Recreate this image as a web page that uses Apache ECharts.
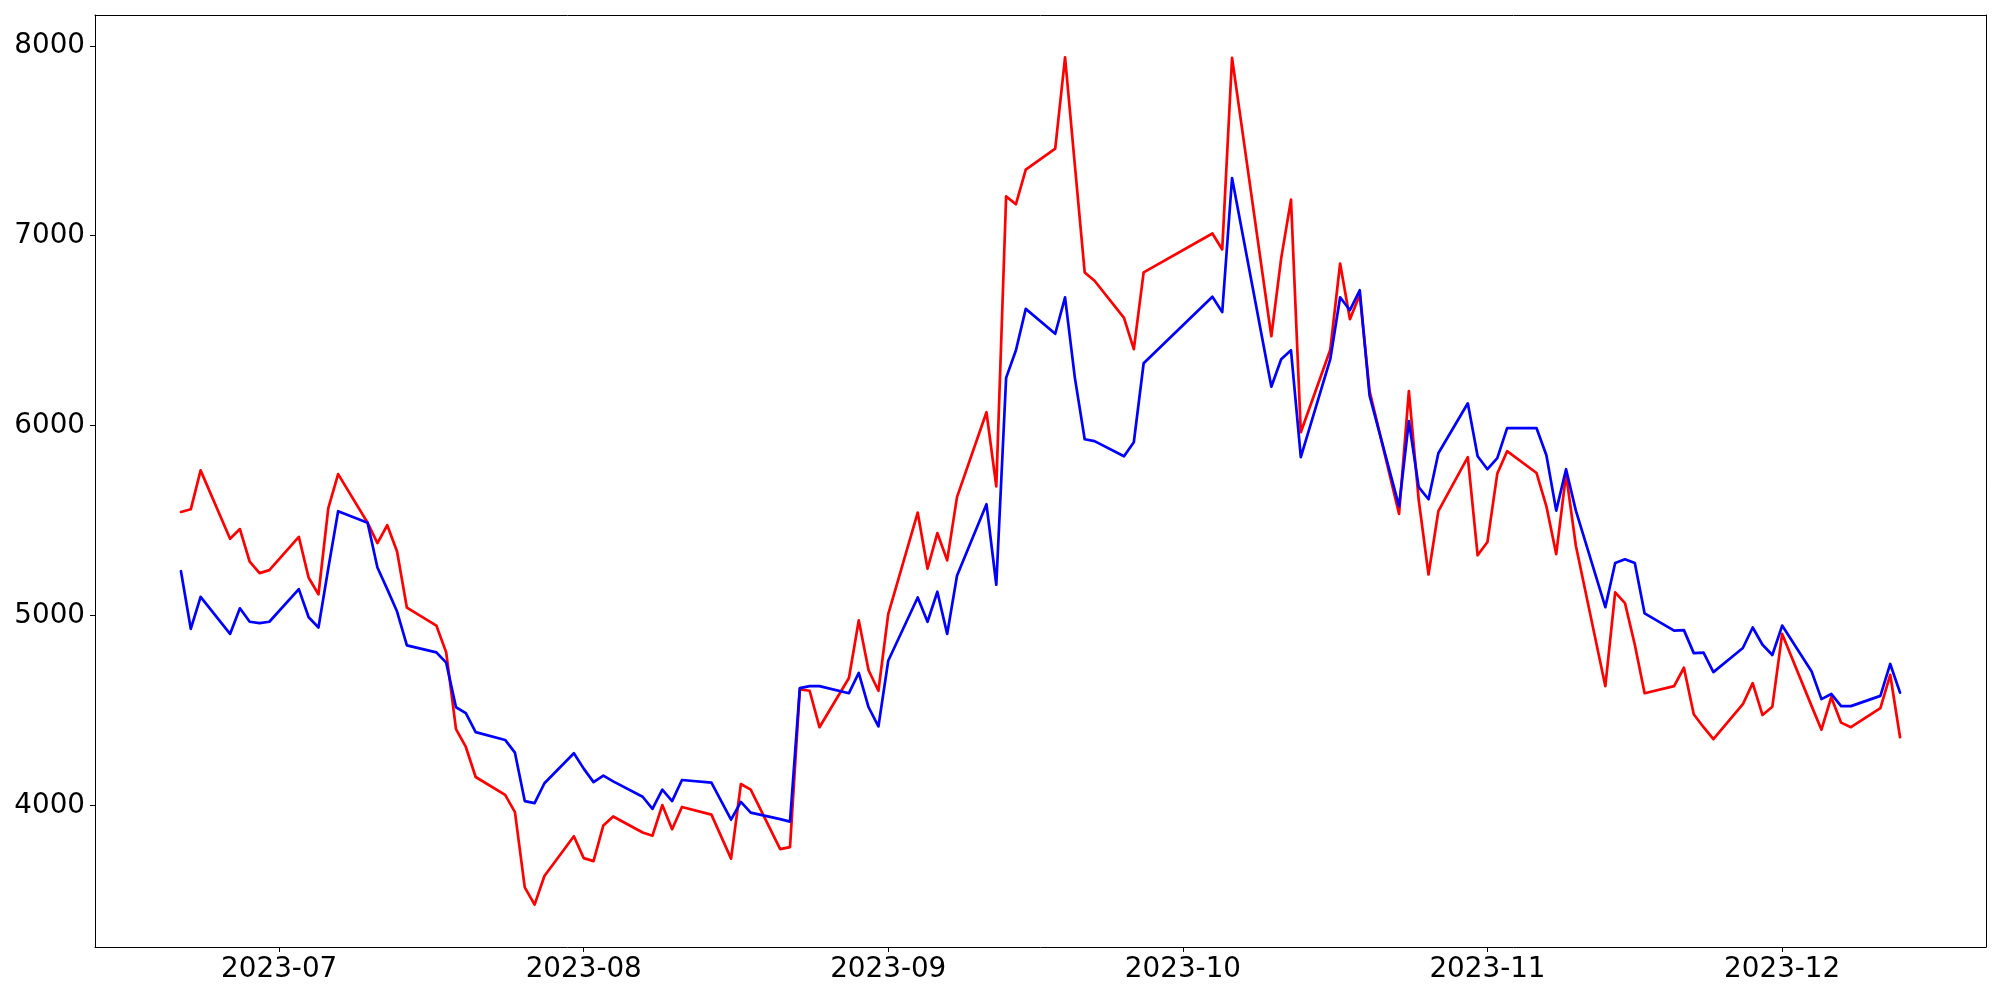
<!DOCTYPE html>
<html>
<head>
<meta charset="utf-8">
<script src="https://cdn.jsdelivr.net/npm/echarts@6/dist/echarts.min.js"></script>
<style>
html,body{margin:0;padding:0;background:#fff;}
#chart{width:2000px;height:1000px;}
</style>
</head>
<body>
<div id="chart"></div>
<script>
// Trading dates
const dates = [
 '2023-06-21','2023-06-22','2023-06-23','2023-06-26','2023-06-27','2023-06-28','2023-06-29','2023-06-30',
 '2023-07-03','2023-07-04','2023-07-05','2023-07-06','2023-07-07','2023-07-10','2023-07-11','2023-07-12','2023-07-13','2023-07-14',
 '2023-07-17','2023-07-18','2023-07-19','2023-07-20','2023-07-21','2023-07-24','2023-07-25','2023-07-26','2023-07-27','2023-07-28','2023-07-31',
 '2023-08-01','2023-08-02','2023-08-03','2023-08-04','2023-08-07','2023-08-08','2023-08-09','2023-08-10','2023-08-11','2023-08-14',
 '2023-08-16','2023-08-17','2023-08-18','2023-08-21','2023-08-22','2023-08-23','2023-08-24','2023-08-25','2023-08-28','2023-08-29','2023-08-30','2023-08-31',
 '2023-09-01','2023-09-04','2023-09-05','2023-09-06','2023-09-07','2023-09-08','2023-09-11','2023-09-12','2023-09-13','2023-09-14','2023-09-15',
 '2023-09-18','2023-09-19','2023-09-20','2023-09-21','2023-09-22','2023-09-25','2023-09-26','2023-09-27',
 '2023-10-04','2023-10-05','2023-10-06','2023-10-10','2023-10-11','2023-10-12','2023-10-13','2023-10-16','2023-10-17','2023-10-18','2023-10-19','2023-10-20',
 '2023-10-23','2023-10-24','2023-10-25','2023-10-26','2023-10-27','2023-10-30','2023-10-31',
 '2023-11-01','2023-11-02','2023-11-03','2023-11-06','2023-11-07','2023-11-08','2023-11-09','2023-11-10','2023-11-13','2023-11-14','2023-11-15','2023-11-16','2023-11-17',
 '2023-11-20','2023-11-21','2023-11-22','2023-11-23','2023-11-24','2023-11-27','2023-11-28','2023-11-29','2023-11-30',
 '2023-12-01','2023-12-04','2023-12-05','2023-12-06','2023-12-07','2023-12-08','2023-12-11','2023-12-12','2023-12-13'
];

const redValues = [
 5546,5560,5765,5405,5456,5284,5224,5240,
 5415,5200,5113,5566,5745,5489,5382,5476,5338,5042,
 4948,4807,4403,4309,4151,4057,3966,3570,3479,3630,3839,
 3724,3708,3896,3943,3859,3842,4003,3876,3993,3953,
 3721,4114,4084,3771,3782,4612,4605,4413,4672,4975,4713,4605,
 5008,5543,5247,5435,5291,5624,6071,5681,7207,7166,7348,
 7459,7939,7370,6807,6763,6568,6403,6807,
 7012,6928,7936,6471,6881,7190,5966,6400,6854,6561,6689,6182,
 5536,6182,5610,5217,5550,5835,5318,
 5388,5748,5866,5751,5576,5324,5745,5368,4629,5123,5066,4847,4592,
 4629,4726,4481,4413,4350,4534,4645,4477,4521,
 4904,4524,4400,4571,4437,4413,4514,4689,4360
];

const blueValues = [
 5234,4931,5099,4904,5039,4968,4961,4968,
 5140,4992,4938,5250,5550,5489,5254,5140,5022,4844,
 4807,4753,4518,4487,4387,4346,4279,4024,4013,4118,4276,
 4195,4124,4158,4128,4047,3983,4084,4024,4135,4121,
 3926,4020,3963,3929,3916,4619,4629,4629,4592,4699,4518,4417,
 4763,5096,4968,5126,4904,5210,5587,5163,6252,6397,6615,
 6484,6676,6252,5929,5919,5839,5913,6329,
 6679,6598,7304,6205,6350,6397,5835,6350,6676,6608,6713,6158,
 5576,6024,5677,5613,5855,6118,5839,
 5771,5829,5987,5987,5845,5553,5771,5553,5045,5277,5297,5277,5012,
 4921,4924,4803,4806,4703,4830,4938,4847,4793,
 4948,4706,4561,4588,4524,4524,4578,4746,4595
];

const xTickLabels = ['2023-07','2023-08','2023-09','2023-10','2023-11','2023-12'];
const yTickValues = [4000,5000,6000,7000,8000];

function ts(s){ const p = s.split('-').map(Number); return Date.UTC(p[0], p[1]-1, p[2] || 1); }
const xs = dates.map(ts);
const xSpan = xs[xs.length-1] - xs[0];
const xMin = xs[0] - 0.05 * xSpan;
const xMax = xs[xs.length-1] + 0.05 * xSpan;
const allVals = redValues.concat(blueValues);
const vMin = Math.min.apply(null, allVals), vMax = Math.max.apply(null, allVals);
const ySpan = vMax - vMin;
const yMin = vMin - 0.05 * ySpan;
const yMax = vMax + 0.05 * ySpan;
const xTickValues = xTickLabels.map(ts);

function fmtMonth(v){ const d = new Date(v); const m = d.getUTCMonth()+1; return d.getUTCFullYear() + '-' + (m < 10 ? '0' + m : m); }

const font = 'DejaVu Sans';
const frameLine = {show: true, onZero: false, lineStyle: {color: '#000', width: 1}};
const tickStyle = {color: '#000', width: 1};
const chart = echarts.init(document.getElementById('chart'), null, {renderer: 'canvas'});
chart.setOption({
  animation: false,
  backgroundColor: '#ffffff',
  grid: {left: 95, right: 14, top: 15, bottom: 53, show: false},
  xAxis: [{
    type: 'value', min: xMin, max: xMax, scale: true, position: 'bottom',
    splitLine: {show: false},
    axisLine: frameLine,
    axisTick: {show: true, inside: false, length: 5, lineStyle: tickStyle, customValues: xTickValues},
    axisLabel: {show: true, margin: 9, color: '#000', fontFamily: font, fontSize: 27.8, customValues: xTickValues, formatter: fmtMonth}
  }, {
    type: 'value', min: xMin, max: xMax, scale: true, position: 'top',
    splitLine: {show: false}, axisLine: frameLine, axisTick: {show: false}, axisLabel: {show: false}
  }],
  yAxis: [{
    type: 'value', min: yMin, max: yMax, scale: true, position: 'left',
    splitLine: {show: false},
    axisLine: frameLine,
    axisTick: {show: true, inside: false, length: 5, lineStyle: tickStyle, customValues: yTickValues},
    axisLabel: {show: true, margin: 10, color: '#000', fontFamily: font, fontSize: 27.8, customValues: yTickValues, formatter: function(v){ return String(v); }}
  }, {
    type: 'value', min: yMin, max: yMax, scale: true, position: 'right',
    splitLine: {show: false}, axisLine: frameLine, axisTick: {show: false}, axisLabel: {show: false}
  }],
  series: [
    {type: 'line', name: 'red', xAxisIndex: 0, yAxisIndex: 0, data: xs.map((x,i)=>[x, redValues[i]]), showSymbol: false, symbol: 'none',
     lineStyle: {color: '#ff0000', width: 2.7, join: 'round', cap: 'round'}, itemStyle: {color: '#ff0000'}, z: 2},
    {type: 'line', name: 'blue', xAxisIndex: 0, yAxisIndex: 0, data: xs.map((x,i)=>[x, blueValues[i]]), showSymbol: false, symbol: 'none',
     lineStyle: {color: '#0000ff', width: 2.7, join: 'round', cap: 'round'}, itemStyle: {color: '#0000ff'}, z: 3}
  ]
});
</script>
</body>
</html>
